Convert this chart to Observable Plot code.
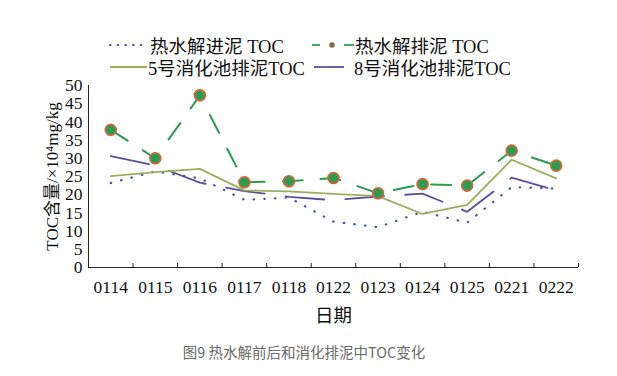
<!DOCTYPE html>
<html><head><meta charset="utf-8">
<script src="https://cdn.jsdelivr.net/npm/d3@7"></script>
<script src="https://cdn.jsdelivr.net/npm/@observablehq/plot@0.6"></script>
<style>
body{margin:0;background:#fff;}
#wrap{position:relative;width:617px;height:376px;overflow:hidden;font-family:"Liberation Serif","Noto Sans CJK SC",serif;}
#chart{position:absolute;left:0;top:0;}
.lg{position:absolute;display:flex;align-items:center;font-size:18.5px;color:#111;white-space:nowrap;}
.lg svg{display:block;}
#cap{position:absolute;top:341px;left:0;width:608px;text-align:center;font-family:"Noto Sans CJK SC",sans-serif;font-size:14.5px;color:#6a6a6a;}
</style></head>
<body><div id="wrap"><div id="chart"></div><div id="legend"></div><div id="cap"></div></div>
<script>
const dates = ["0114","0115","0116","0117","0118","0122","0123","0124","0125","0221","0222"];
const feedTOC = [23.2, 26.4, 24.5, 18.6, 19.2, 12.6, 11.1, 15.3, 12.3, 22.1, 21.7];
const dischargeTOC = [37.8, 30.0, 47.3, 23.4, 23.7, 24.6, 20.4, 22.9, 22.5, 32.1, 28.0];
const digester5TOC = [25.1, 26.2, 27.1, 21.2, 20.9, 20.2, 19.6, 14.7, 17.2, 29.6, 24.5];
const digester8TOC = [30.6, 28.0, 23.3, 21.0, 19.4, 18.5, 19.5, 20.3, 15.3, 24.7, 21.2];
const seriesNames = ["热水解进泥 TOC", "热水解排泥 TOC", "5号消化池排泥TOC", "8号消化池排泥TOC"];
const yTicks = [0,5,10,15,20,25,30,35,40,45,50];
const yLabel = "TOC含量/×10⁴mg/kg";
const xLabel = "日期";
const caption = "图9 热水解前后和消化排泥中TOC变化";

const colors = {feed:"#3f56a8", dis:"#2f9a52", mk:"#d8663c", d5:"#9aae5e", d8:"#5d4f9c"};

const idx = dates.map((d,i)=>i);
const rows = s => s.map((v,i)=>({i, v}));
const bounds = d3.range(-0.5, dates.length, 1);

const font = '"Liberation Serif","Noto Sans CJK SC",serif';
const plot = Plot.plot({
  width: 617, height: 330,
  marginTop: 85, marginBottom: 63, marginLeft: 88, marginRight: 39,
  style: {fontFamily: font, fontSize: "17.5px", color: "#111", background: "transparent"},
  x: {type: "linear", domain: [-0.5, dates.length - 0.5]},
  y: {domain: [0, 50]},
  marks: [
    Plot.axisY({ticks: yTicks, tickSize: 0, tickPadding: 6, label: null, fontSize: 17.5}),
    Plot.axisX({ticks: idx, tickFormat: i => dates[i], tickSize: 0, tickPadding: 13, label: null, fontSize: 17.5}),
    Plot.ruleY([0], {stroke: "#222", strokeWidth: 1}),
    Plot.ruleX([-0.5], {stroke: "#222", strokeWidth: 1}),
    Plot.ruleX(bounds.slice(1), {x: d => d, y1: 0, y2: 0, insetTop: -4, stroke: "#222", strokeWidth: 1}),
    Plot.line(rows(feedTOC), {x: "i", y: "v", stroke: colors.feed, strokeWidth: 2.2, strokeDasharray: "0.5,10.2", strokeLinecap: "round"}),
    Plot.line(rows(digester8TOC), {x: "i", y: "v", stroke: colors.d8, strokeWidth: 1.8, strokeDasharray: "39,21"}),
    Plot.line(rows(digester5TOC), {x: "i", y: "v", stroke: colors.d5, strokeWidth: 1.8}),
    Plot.line(rows(dischargeTOC), {x: "i", y: "v", stroke: colors.dis, strokeWidth: 2, strokeDasharray: "20,18"}),
    Plot.dot(rows(dischargeTOC), {x: "i", y: "v", r: 5.5, fill: colors.dis, stroke: colors.mk, strokeWidth: 1.6}),
    Plot.text([yLabel], {frameAnchor: "left", textAnchor: "middle", dx: -36, rotate: -90, fontSize: 17, fill: "#111"}),
    Plot.text([xLabel], {frameAnchor: "bottom", dy: 49, fontSize: 18.5, fill: "#111", lineAnchor: "middle"})
  ]
});
document.getElementById("chart").appendChild(plot);

// legend
const legendItems = [
  {name: seriesNames[0], left: 109, top: 34, w: 34, kind: "dots", gap: 7},
  {name: seriesNames[1], left: 310, top: 34, w: 44, kind: "dashdot", gap: 1},
  {name: seriesNames[2], left: 110, top: 56, w: 37, kind: "solid5", gap: 1},
  {name: seriesNames[3], left: 314, top: 56, w: 30, kind: "solid8", gap: 10}
];
const lg = document.getElementById("legend");
for (const it of legendItems) {
  const div = document.createElement("div");
  div.className = "lg";
  div.style.left = it.left + "px";
  div.style.top = it.top + "px";
  div.style.height = "22px";
  let sw = "";
  const w = it.w;
  if (it.kind === "dots") sw = `<line x1="1" y1="11" x2="${w}" y2="11" stroke="${colors.feed}" stroke-width="2.2" stroke-dasharray="0.5,7.2" stroke-linecap="round"/>`;
  if (it.kind === "dashdot") sw = `<line x1="2" y1="11" x2="10" y2="11" stroke="${colors.dis}" stroke-width="1.8"/><circle cx="22" cy="11" r="2.8" fill="#8a6a3a"/><line x1="34" y1="11" x2="${w}" y2="11" stroke="${colors.dis}" stroke-width="1.8"/>`;
  if (it.kind === "solid5") sw = `<line x1="0" y1="11" x2="${w}" y2="11" stroke="${colors.d5}" stroke-width="1.8"/>`;
  if (it.kind === "solid8") sw = `<line x1="0" y1="11" x2="${w}" y2="11" stroke="${colors.d8}" stroke-width="1.8"/>`;
  div.innerHTML = `<svg width="${w}" height="22">${sw}</svg><span style="margin-left:${it.gap}px">${it.name}</span>`;
  lg.appendChild(div);
}
document.getElementById("cap").textContent = caption;
</script></body></html>
